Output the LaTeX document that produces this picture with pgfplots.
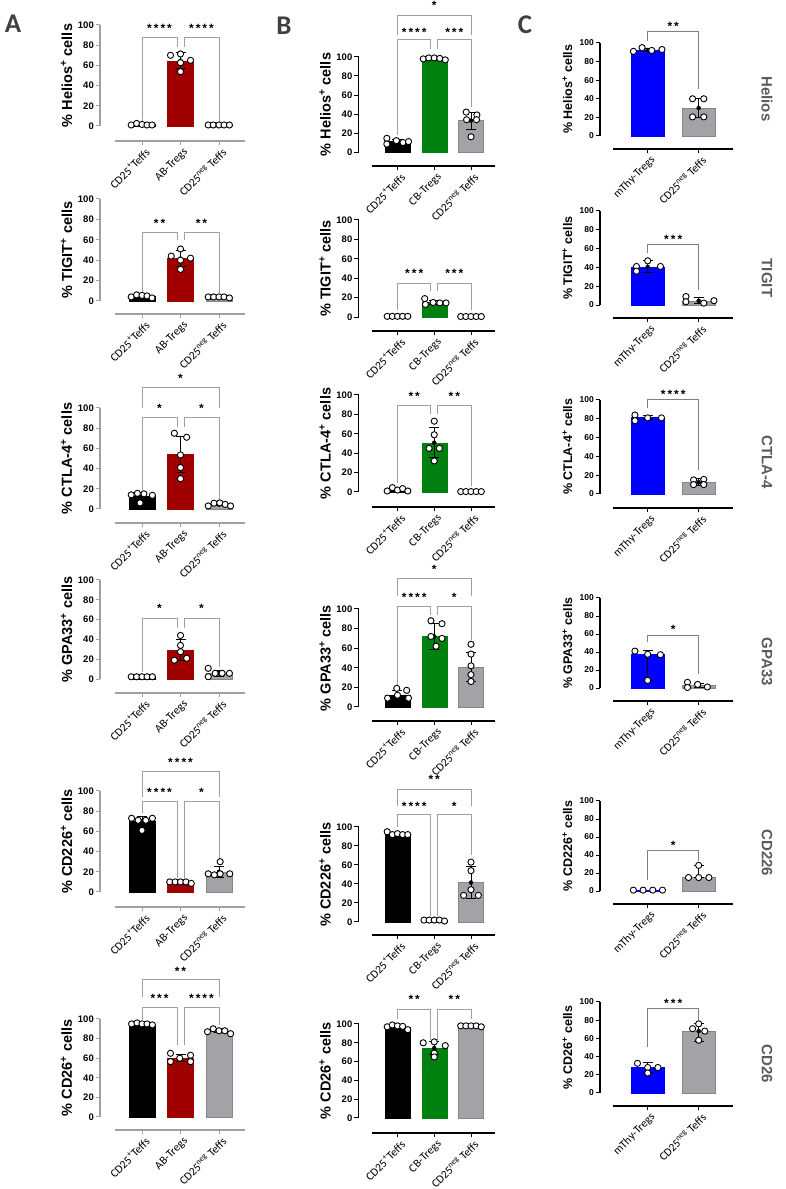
\documentclass[border=0pt]{standalone}
\usepackage{fontspec}
\setmainfont{Carlito}
\newfontfamily\arialf{Liberation Sans}
\usepackage{pgfplots}
\pgfplotsset{compat=1.18}
\definecolor{redA}{HTML}{A00000}
\definecolor{greenB}{HTML}{00800F}
\definecolor{blueC}{HTML}{0000FF}
\definecolor{grayBar}{HTML}{A2A2A7}
\definecolor{grayEdge}{HTML}{85858A}
\definecolor{axA}{HTML}{A0A0A0}
\definecolor{brkc}{HTML}{A0A0A0}
\definecolor{brkC}{HTML}{808080}
\definecolor{labc}{HTML}{404040}
\definecolor{rowc}{HTML}{5A5A5A}

\newcommand\ylAB{\arialf\fontsize{14.5}{14.5}\selectfont\bfseries}
\newcommand\ylC{\arialf\fontsize{12.5}{12.5}\selectfont\bfseries}
\newcommand\starfont{\arialf\fontsize{12}{12}\selectfont\bfseries}
\newcommand\bc{brkc}

\pgfplotsset{
 gp/.style={scale only axis, clip=false, anchor=south west,
  axis lines*=left, axis line style={draw=none,-},
  ymax=100, ytick={0,20,40,60,80,100}, xtick={0,1,2},
  tick align=outside, major tick length=4.5pt,
  /pgf/number format/assume math mode=true,
  yticklabel style={font=\arialf\fontsize{9.5}{9.5}\selectfont\bfseries, inner sep=1.5pt},
  xticklabel style={rotate=45, anchor=east, font=\fontsize{11.5}{11.5}\selectfont, inner sep=1pt, xshift=1.5pt, yshift=-7.5pt},
 },
 colA/.style={gp, width=145pt, xmin=-1.091, xmax=2.675,
  xticklabels={CD25\textsuperscript{+}Teffs, AB-Tregs, CD25\textsuperscript{neg} Teffs},
  tick style={axA, line width=1pt}},
 colB/.style={gp, width=136.5pt, xmin=-1.061, xmax=2.653,
  xticklabels={CD25\textsuperscript{+}Teffs, CB-Tregs, CD25\textsuperscript{neg} Teffs},
  tick style={black, line width=1pt}},
 colC/.style={gp, width=133pt, xmin=-0.935, xmax=1.673, xtick={0,1},
  xticklabels={mThy-Tregs, CD25\textsuperscript{neg} Teffs},
  yticklabel style={font=\arialf\fontsize{8.5}{8.5}\selectfont\bfseries},
  tick style={black, line width=1pt}},
 pts/.style={only marks, mark=*, mark size=3.1pt, mark options={fill=white, draw=black, line width=0.9pt}, forget plot},
 eb/.style={only marks, mark=none, forget plot, error bars/.cd, y dir=both, y explicit,
   error bar style={line width=1pt, black}, error mark options={rotate=90, mark size=5pt, line width=1pt, black}},
}

\newcommand\axl[3]{%
 \draw[#1, line width=1.2pt] (axis cs:#2,0) -- (axis cs:#2,100);
 \draw[#1, line width=1.2pt] ([xshift=#3]rel axis cs:0,0) -- (rel axis cs:1,0);}
\newcommand\yl[3]{\node[rotate=90, anchor=base, inner sep=0pt, font=#2] at ([xshift=-28pt]axis cs:#1,50) {#3};}
\newcommand\brk[5]{\draw[\bc, line width=0.9pt] (axis cs:#1,#4) -- (axis cs:#1,#3) -- (axis cs:#2,#3) -- (axis cs:#2,#5);}
\newcommand\st[3]{\node[font=\starfont, inner sep=0pt] at (axis cs:#1,#2) {#3};}
\def\sA{*}
\def\sB{*\,*}
\def\sC{*\,*\,*}
\def\sD{*\,*\,*\,*}

\begin{document}
\begin{tikzpicture}
\useasboundingbox (0,0) rectangle (786pt,1189pt);

\node[font=\fontsize{27}{27}\selectfont\bfseries, text=labc] at (13pt,1165pt) {A};
\node[font=\fontsize{27}{27}\selectfont\bfseries, text=labc] at (284pt,1163pt) {B};
\node[font=\fontsize{27}{27}\selectfont\bfseries, text=labc] at (525pt,1164pt) {C};

\foreach \t/\y in {Helios/1090, TIGIT/911, CTLA-4/727, GPA33/527, CD226/336, CD26/125}
  \node[rotate=-90, font=\arialf\fontsize{15}{15}\selectfont\bfseries, text=rowc] at (767pt,\y pt) {\t};

%================ Column A =================
% A1 Helios
\begin{axis}[colA, at={(100pt,1048pt)}, height=116pt, ymin=-14.85]
\addplot[ybar, bar width=26pt, fill=black, draw=black] coordinates {(0,1.4)};
\addplot[ybar, bar width=26pt, fill=redA, draw=redA] coordinates {(1,64.6)};
\addplot[ybar, bar width=26pt, fill=grayBar, draw=grayEdge] coordinates {(2,1)};
\addplot[eb] coordinates {(1,64.6) +- (0,7.8)};
\addplot[pts] coordinates {(-0.28,1)(-0.14,2.5)(0,1.5)(0.13,1)(0.26,1)
 (0.74,70)(1,71.3)(1,62.7)(1.26,65)(1,53.8)
 (1.72,1)(1.85,1)(2,1)(2.13,1)(2.27,1)};
\axl{axA}{-1.091}{15pt}
\yl{-1.091}{\ylAB}{\% Helios\textsuperscript{+} cells}
\brk{0}{0.91}{88}{4}{78}\brk{1.09}{2}{88}{78}{4}
\st{0.455}{97}{\sD}\st{1.545}{97}{\sD}
\end{axis}

% A2 TIGIT
\begin{axis}[colA, at={(100pt,875pt)}, height=115pt, ymin=-12.75]
\addplot[ybar, bar width=26pt, fill=black, draw=black] coordinates {(0,4.6)};
\addplot[ybar, bar width=26pt, fill=redA, draw=redA] coordinates {(1,41.6)};
\addplot[ybar, bar width=26pt, fill=grayBar, draw=grayEdge] coordinates {(2,3.8)};
\addplot[eb] coordinates {(0,4.6) +- (0,1.2) (1,41.6) +- (0,7.5)};
\addplot[pts] coordinates {(-0.28,4)(-0.14,6)(0,5.5)(0.13,5)(0.26,3)
 (0.76,44)(1,51)(1,40)(1.26,42)(1,31)
 (1.72,4)(1.86,4)(2,4)(2.13,4)(2.27,3)};
\axl{axA}{-1.091}{15pt}
\yl{-1.091}{\ylAB}{\% TIGIT\textsuperscript{+} cells}
\brk{0}{0.91}{67.6}{8}{60}\brk{1.09}{2}{67.6}{60}{8}
\st{0.455}{76}{\sB}\st{1.545}{76}{\sB}
\end{axis}

% A3 CTLA-4
\begin{axis}[colA, at={(100pt,666pt)}, height=115pt, ymin=-13.9]
\addplot[ybar, bar width=26pt, fill=black, draw=black] coordinates {(0,12.5)};
\addplot[ybar, bar width=26pt, fill=redA, draw=redA] coordinates {(1,54.1)};
\addplot[ybar, bar width=26pt, fill=grayBar, draw=grayEdge] coordinates {(2,4.4)};
\addplot[eb] coordinates {(0,12.5) +- (0,3.8) (1,54.1) +- (0,18) (2,4.4) +- (0,1.3)};
\addplot[pts] coordinates {(-0.28,14)(-0.12,15.5)(0.05,15)(0.27,13.5)(-0.05,6)
 (0.84,75)(1.16,71)(1,53.5)(1,41)(1,30)
 (1.72,3)(1.87,5.7)(2.02,6)(2.16,4.5)(2.3,3)};
\axl{axA}{-1.091}{15pt}
\yl{-1.091}{\ylAB}{\% CTLA-4\textsuperscript{+} cells}
\brk{0}{2}{120}{100}{100}\st{1}{129}{\sA}
\brk{0}{0.91}{91}{19}{81}\brk{1.09}{2}{91}{81}{9}
\st{0.455}{100}{\sA}\st{1.545}{100}{\sA}
\end{axis}

% A4 GPA33
\begin{axis}[colA, at={(100pt,496pt)}, height=113pt, ymin=-14.1]
\addplot[ybar, bar width=26pt, fill=black, draw=black] coordinates {(0,2.3)};
\addplot[ybar, bar width=26pt, fill=redA, draw=redA] coordinates {(1,29.1)};
\addplot[ybar, bar width=26pt, fill=grayBar, draw=grayEdge] coordinates {(2,6)};
\addplot[eb] coordinates {(1,29.1) +- (0,10.5) (2,6) +- (0,3)};
\addplot[pts] coordinates {(-0.28,2.3)(-0.14,2.3)(0,2.3)(0.13,2.3)(0.27,2.3)
 (1,44)(1,34)(1,27.6)(0.84,19)(1.16,21)
 (1.72,10.8)(1.72,2.4)(1.9,5.8)(2.08,5.8)(2.27,5.8)};
\axl{axA}{-1.091}{15pt}
\yl{-1.091}{\ylAB}{\% GPA33\textsuperscript{+} cells}
\brk{0}{0.91}{61.6}{7}{52}\brk{1.09}{2}{61.6}{52}{12}
\st{0.455}{71}{\sA}\st{1.545}{71}{\sA}
\end{axis}

% A5 CD226
\begin{axis}[colA, at={(100pt,282pt)}, height=116pt, ymin=-14.85]
\addplot[ybar, bar width=26pt, fill=black, draw=black] coordinates {(0,69.8)};
\addplot[ybar, bar width=26pt, fill=redA, draw=redA] coordinates {(1,9.6)};
\addplot[ybar, bar width=26pt, fill=grayBar, draw=grayEdge] coordinates {(2,20)};
\addplot[eb] coordinates {(0,69.8) +- (0,4.8) (1,9.6) +- (0,0.9) (2,20) +- (0,5.5)};
\addplot[pts] coordinates {(-0.27,73)(-0.1,71)(0.1,71)(0.27,73)(0,61)
 (0.72,10)(0.86,10)(1,10)(1.14,10)(1.28,8.5)
 (2.03,30)(1.72,18)(1.88,17)(2.03,18)(2.28,18)};
\axl{axA}{-1.091}{15pt}
\yl{-1.091}{\ylAB}{\% CD226\textsuperscript{+} cells}
\brk{0}{2}{119}{94}{94}\st{1}{128}{\sD}
\brk{0}{0.91}{90}{78}{14}\brk{1.09}{2}{90}{14}{32}
\st{0.455}{99}{\sD}\st{1.545}{99}{\sA}
\end{axis}

% A6 CD26
\begin{axis}[colA, at={(100pt,59pt)}, height=111pt, ymin=-13.3]
\addplot[ybar, bar width=26pt, fill=black, draw=black] coordinates {(0,95)};
\addplot[ybar, bar width=26pt, fill=redA, draw=redA] coordinates {(1,60.2)};
\addplot[ybar, bar width=26pt, fill=grayBar, draw=grayEdge] coordinates {(2,87.8)};
\addplot[eb] coordinates {(0,95) +- (0,0.8) (1,60.2) +- (0,3.8) (2,87.8) +- (0,1.8)};
\addplot[pts] coordinates {(-0.27,95)(-0.13,96)(0,95)(0.13,95)(0.27,94)
 (0.74,65)(0.98,60)(1.26,63)(0.74,56.5)(1.26,56.5)
 (1.7,87)(1.85,90)(2,88)(2.15,88)(2.3,85)};
\axl{axA}{-1.091}{15pt}
\yl{-1.091}{\ylAB}{\% CD26\textsuperscript{+} cells}
\brk{0}{2}{140}{122}{122}\st{1}{149}{\sB}
\brk{0}{0.91}{112}{99}{73}\brk{1.09}{2}{112}{73}{94}
\st{0.455}{121}{\sC}\st{1.545}{121}{\sD}
\end{axis}

%================ Column B =================
% B1 Helios
\begin{axis}[colB, at={(358.5pt,1023pt)}, height=109pt, ymin=-14.7]
\addplot[ybar, bar width=25pt, fill=black, draw=black] coordinates {(0,11.2)};
\addplot[ybar, bar width=25pt, fill=greenB, draw=greenB] coordinates {(1,98)};
\addplot[ybar, bar width=25pt, fill=grayBar, draw=grayEdge] coordinates {(2,33)};
\addplot[eb] coordinates {(0,11.2) +- (0,2.2) (1,98) +- (0,0.8) (2,33) +- (0,9)};
\addplot[pts] coordinates {(-0.29,14.4)(-0.29,8.4)(-0.03,12)(0.15,10)(0.3,11)
 (0.7,98)(0.85,99)(1,99)(1.15,98.5)(1.3,97)
 (1.87,42)(2.16,39)(1.88,34)(2.15,34)(2,16)};
\axl{black}{-1.061}{13.5pt}
\yl{-1.061}{\ylAB}{\% Helios\textsuperscript{+} cells}
\brk{0}{2}{144}{123}{123}\st{1}{154}{\sA}
\brk{0}{0.91}{118}{18}{108}\brk{1.09}{2}{118}{108}{47}
\st{0.455}{126}{\sD}\st{1.545}{126}{\sC}
\end{axis}

% B2 TIGIT
\begin{axis}[colB, at={(358.5pt,858pt)}, height=111pt, ymin=-14.4]
\addplot[ybar, bar width=25pt, fill=black, draw=black] coordinates {(0,0.7)};
\addplot[ybar, bar width=25pt, fill=greenB, draw=greenB] coordinates {(1,15.2)};
\addplot[ybar, bar width=25pt, fill=grayBar, draw=grayEdge] coordinates {(2,0.5)};
\addplot[eb] coordinates {(1,15.2) +- (0,2.3)};
\addplot[pts] coordinates {(-0.28,0.7)(-0.14,0.7)(0,0.7)(0.14,0.7)(0.28,0.7)
 (0.74,19)(0.76,13)(0.97,15)(1.15,14.5)(1.32,14.5)
 (1.72,0.5)(1.86,0.5)(2,0.5)(2.14,0.5)(2.28,0.5)};
\axl{black}{-1.061}{13.5pt}
\yl{-1.061}{\ylAB}{\% TIGIT\textsuperscript{+} cells}
\brk{0}{0.91}{35}{7}{27}\brk{1.09}{2}{35}{27}{7}
\st{0.455}{45}{\sC}\st{1.545}{45}{\sC}
\end{axis}

% B3 CTLA-4
\begin{axis}[colB, at={(358.5pt,682pt)}, height=112pt, ymin=-15.5]
\addplot[ybar, bar width=25pt, fill=black, draw=black] coordinates {(0,2.4)};
\addplot[ybar, bar width=25pt, fill=greenB, draw=greenB] coordinates {(1,50.8)};
\addplot[ybar, bar width=25pt, fill=grayBar, draw=grayEdge] coordinates {(2,0.4)};
\addplot[eb] coordinates {(0,2.4) +- (0,1.5) (1,50.8) +- (0,15.5)};
\addplot[pts] coordinates {(-0.28,1)(-0.14,4.5)(0,2)(0.14,3.5)(0.28,1)
 (1,73)(1,59)(0.86,45)(1.14,45)(1,32)
 (1.72,0.4)(1.86,0.4)(2,0.4)(2.14,0.4)(2.28,0.4)};
\axl{black}{-1.061}{13.5pt}
\yl{-1.061}{\ylAB}{\% CTLA-4\textsuperscript{+} cells}
\brk{0}{0.91}{89}{9}{80}\brk{1.09}{2}{89}{80}{6}
\st{0.455}{99}{\sB}\st{1.545}{99}{\sB}
\end{axis}

% B4 GPA33
\begin{axis}[colB, at={(358.5pt,468pt)}, height=112pt, ymin=-14.3]
\addplot[ybar, bar width=25pt, fill=black, draw=black] coordinates {(0,12)};
\addplot[ybar, bar width=25pt, fill=greenB, draw=greenB] coordinates {(1,72)};
\addplot[ybar, bar width=25pt, fill=grayBar, draw=grayEdge] coordinates {(2,41)};
\addplot[eb] coordinates {(0,12) +- (0,5) (1,72) +- (0,13) (2,41) +- (0,15)};
\addplot[pts] coordinates {(-0.02,19)(0.25,17)(-0.27,9)(0,12)(0.3,9)
 (0.91,88)(1.21,85)(0.91,72)(1.21,70)(1.05,62)
 (2,64)(2,54)(2,42)(2,33)(2,26)};
\axl{black}{-1.061}{13.5pt}
\yl{-1.061}{\ylAB}{\% GPA33\textsuperscript{+} cells}
\brk{0}{2}{131}{113}{113}\st{1}{140}{\sA}
\brk{0}{0.91}{103}{21}{94}\brk{1.09}{2}{103}{94}{68}
\st{0.455}{112}{\sD}\st{1.545}{112}{\sA}
\end{axis}

% B5 CD226
\begin{axis}[colB, at={(358.5pt,254pt)}, height=108pt, ymin=-13.7]
\addplot[ybar, bar width=25pt, fill=black, draw=black] coordinates {(0,92.8)};
\addplot[ybar, bar width=25pt, fill=greenB, draw=greenB] coordinates {(1,1.8)};
\addplot[ybar, bar width=25pt, fill=grayBar, draw=grayEdge] coordinates {(2,41.5)};
\addplot[eb] coordinates {(0,92.8) +- (0,1.4) (1,1.8) +- (0,0.5) (2,41.5) +- (0,16.5)};
\addplot[pts] coordinates {(-0.28,95)(-0.14,92)(0,93)(0.14,92)(0.28,92)
 (0.72,2)(0.86,2)(1,2)(1.14,2)(1.28,1)
 (2,63)(2,54)(2,34)(1.8,28)(2.2,28)};
\axl{black}{-1.061}{13.5pt}
\yl{-1.061}{\ylAB}{\% CD226\textsuperscript{+} cells}
\brk{0}{2}{140}{122}{122}\st{1}{150}{\sB}
\brk{0}{0.91}{113}{100}{6}\brk{1.09}{2}{113}{6}{70}
\st{0.455}{122}{\sD}\st{1.545}{122}{\sA}
\end{axis}

% B6 CD26
\begin{axis}[colB, at={(358.5pt,56pt)}, height=109pt, ymin=-16]
\addplot[ybar, bar width=25pt, fill=black, draw=black] coordinates {(0,96.5)};
\addplot[ybar, bar width=25pt, fill=greenB, draw=greenB] coordinates {(1,74.4)};
\addplot[ybar, bar width=25pt, fill=grayBar, draw=grayEdge] coordinates {(2,97.8)};
\addplot[eb] coordinates {(0,96.5) +- (0,1.8) (1,74.4) +- (0,6.5) (2,97.8) +- (0,0.4)};
\addplot[pts] coordinates {(-0.28,97)(-0.14,99)(0,98)(0.14,97.5)(0.28,94)
 (0.7,80)(1,81)(1.3,77)(1,69)(1,65)
 (1.72,98)(1.86,98)(2,98)(2.14,98)(2.28,97)};
\axl{black}{-1.061}{13.5pt}
\yl{-1.061}{\ylAB}{\% CD26\textsuperscript{+} cells}
\brk{0}{0.91}{116}{105}{83}\brk{1.09}{2}{116}{83}{105}
\st{0.455}{126}{\sB}\st{1.545}{126}{\sB}
\end{axis}

%================ Column C =================
\renewcommand\bc{brkC}
% C1 Helios
\begin{axis}[colC, at={(600pt,1040pt)}, height=106pt, ymin=-14]
\addplot[ybar, bar width=33pt, fill=blueC, draw=blueC] coordinates {(0,92.5)};
\addplot[ybar, bar width=33pt, fill=grayBar, draw=grayEdge] coordinates {(1,30)};
\addplot[eb] coordinates {(0,92.5) +- (0,1.5) (1,30) +- (0,10)};
\addplot[pts] coordinates {(-0.28,91)(-0.11,95)(0.08,92)(0.28,93)
 (0.88,40)(1.1,40)(0.88,20.5)(1.1,20.5)};
\axl{black}{-0.935}{13pt}
\yl{-0.935}{\ylC}{\% Helios\textsuperscript{+} cells}
\brk{0}{1}{112}{102}{50}\st{0.5}{118}{\sB}
\end{axis}

% C2 TIGIT
\begin{axis}[colC, at={(600pt,871pt)}, height=107pt, ymin=-13.8]
\addplot[ybar, bar width=33pt, fill=blueC, draw=blueC] coordinates {(0,40.5)};
\addplot[ybar, bar width=33pt, fill=grayBar, draw=grayEdge] coordinates {(1,4.5)};
\addplot[eb] coordinates {(0,40.5) += (0,6.5) -= (0,5.5) (1,4.5) += (0,4) -= (0,2.5)};
\addplot[pts] coordinates {(0,47)(-0.22,41)(0.25,41)(-0.22,36)
 (0.75,9)(0.75,3.5)(1.1,2)(1.3,4.6)};
\axl{black}{-0.935}{13pt}
\yl{-0.935}{\ylC}{\% TIGIT\textsuperscript{+} cells}
\brk{0}{1}{64}{55}{16}\st{0.5}{69.5}{\sC}
\end{axis}

% C3 CTLA-4
\begin{axis}[colC, at={(600pt,681pt)}, height=108pt, ymin=-14.9]
\addplot[ybar, bar width=33pt, fill=blueC, draw=blueC] coordinates {(0,81.5)};
\addplot[ybar, bar width=33pt, fill=grayBar, draw=grayEdge] coordinates {(1,12.5)};
\addplot[eb] coordinates {(0,81.5) +- (0,2.2) (1,12.5) +- (0,3.5)};
\addplot[pts] coordinates {(-0.25,84)(-0.25,78)(0,81)(0.27,81)
 (0.9,15)(1.1,15.5)(0.9,10)(1.1,10)};
\axl{black}{-0.935}{13pt}
\yl{-0.935}{\ylC}{\% CTLA-4\textsuperscript{+} cells}
\brk{0}{1}{100.7}{92}{25}\st{0.5}{106}{\sD}
\end{axis}

% C4 GPA33
\begin{axis}[colC, at={(600pt,488pt)}, height=103pt, ymin=-14.4]
\addplot[ybar, bar width=33pt, fill=blueC, draw=blueC] coordinates {(0,37.4)};
\addplot[ybar, bar width=33pt, fill=grayBar, draw=grayEdge] coordinates {(1,3)};
\addplot[eb] coordinates {(0,37.4) += (0,4.6) -= (0,28.9) (1,3) +- (0,2.5)};
\addplot[pts] coordinates {(-0.25,41)(0,37.5)(0.25,37)(0,8.5)
 (0.78,6.3)(0.78,0.6)(0.98,4)(1.17,1.2)};
\axl{black}{-0.935}{13pt}
\yl{-0.935}{\ylC}{\% GPA33\textsuperscript{+} cells}
\brk{0}{1}{58.5}{51}{16}\st{0.5}{65}{\sA}
\end{axis}

% C5 CD226
\begin{axis}[colC, at={(600pt,285pt)}, height=103pt, ymin=-14.4]
\addplot[ybar, bar width=33pt, fill=blueC, draw=blueC] coordinates {(0,0.5)};
\addplot[ybar, bar width=33pt, fill=grayBar, draw=grayEdge] coordinates {(1,15.5)};
\addplot[eb] coordinates {(1,15.5) += (0,13) -= (0,0.5)};
\addplot[pts] coordinates {(-0.28,1)(-0.09,1)(0.1,1)(0.29,1)
 (1,28.5)(0.8,15)(1,15)(1.2,15)};
\axl{black}{-0.935}{13pt}
\yl{-0.935}{\ylC}{\% CD226\textsuperscript{+} cells}
\brk{0}{1}{45}{12.5}{33}\st{0.5}{51}{\sA}
\end{axis}

% C6 CD26
\begin{axis}[colC, at={(600pt,83pt)}, height=104pt, ymin=-14.3]
\addplot[ybar, bar width=33pt, fill=blueC, draw=blueC] coordinates {(0,28)};
\addplot[ybar, bar width=33pt, fill=grayBar, draw=grayEdge] coordinates {(1,68)};
\addplot[eb] coordinates {(0,28) += (0,5) -= (0,6) (1,68) += (0,8) -= (0,11)};
\addplot[pts] coordinates {(-0.2,32.6)(0,28)(0.2,28)(0,22)
 (1,76)(0.88,70.7)(1.12,68)(1,58)};
\axl{black}{-0.935}{13pt}
\yl{-0.935}{\ylC}{\% CD26\textsuperscript{+} cells}
\brk{0}{1}{92.6}{50}{80}\st{0.5}{98}{\sC}
\end{axis}

\end{tikzpicture}
\end{document}
